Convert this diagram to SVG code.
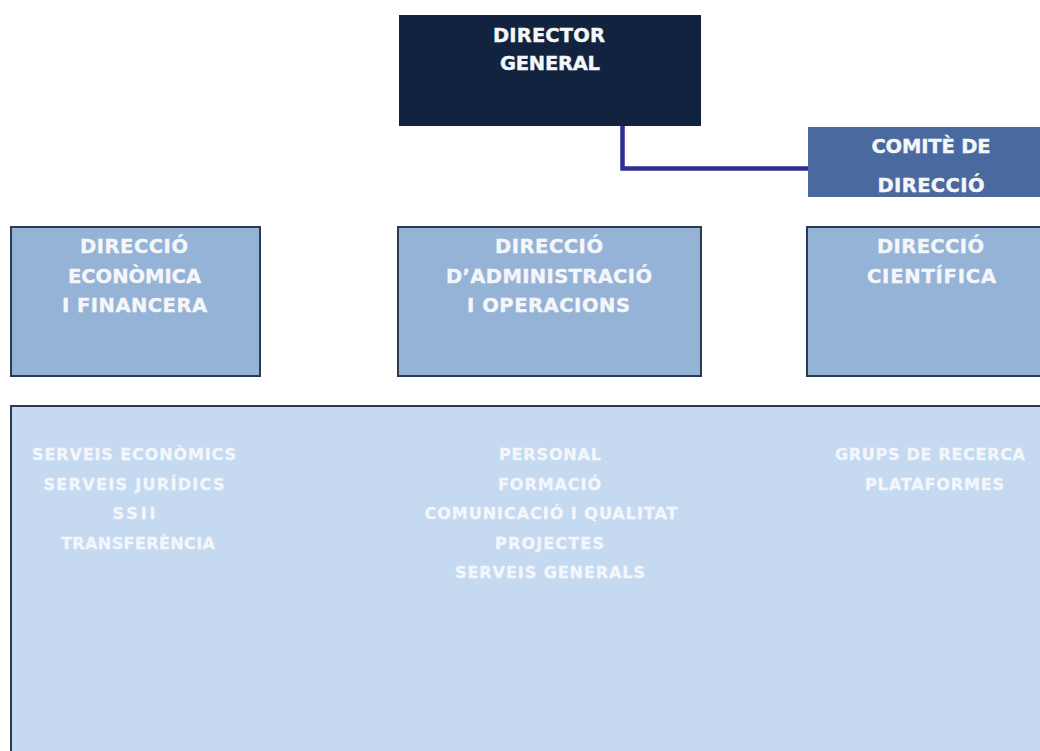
<svg xmlns="http://www.w3.org/2000/svg" width="1040" height="751" viewBox="0 0 1040 751">
<style>
.t{font-family:"DejaVu Sans","Liberation Sans",sans-serif;font-weight:bold;text-anchor:middle}
.h{font-size:19.5px;fill:#f4f6f9;stroke:#f4f6f9;stroke-width:0.4}
.s{font-size:16px;fill:#f3f7fc;stroke:#f3f7fc;stroke-width:0.3}
.box{fill:#95b3d7;stroke:#2c3b52;stroke-width:2}
</style>
<rect width="1040" height="751" fill="#ffffff"/>
<g id="connectors">
<polyline points="622.5,120 622.5,168.5 810,168.5" fill="none" stroke="#2f2e94" stroke-width="4.5"/>
</g>
<g id="director-general">
<rect x="399" y="15" width="302" height="111" fill="#11233e"/>
<text class="t h" x="549" y="42" textLength="112" lengthAdjust="spacing">DIRECTOR</text>
<text class="t h" x="550" y="70" textLength="100" lengthAdjust="spacing">GENERAL</text>
</g>
<g id="comite-direccio">
<rect x="808" y="127" width="240" height="70" fill="#4a699f"/>
<text class="t h" x="931" y="153" textLength="119" lengthAdjust="spacing">COMITÈ DE</text>
<text class="t h" x="931" y="191.5" textLength="107" lengthAdjust="spacing">DIRECCIÓ</text>
</g>
<g id="direccio-economica">
<rect class="box" x="11" y="227" width="249" height="149"/>
<text class="t h" x="134" y="253" textLength="108" lengthAdjust="spacing">DIRECCIÓ</text>
<text class="t h" x="134.5" y="283" textLength="133" lengthAdjust="spacing">ECONÒMICA</text>
<text class="t h" x="134.5" y="312" textLength="145" lengthAdjust="spacing">I FINANCERA</text>
</g>
<g id="direccio-administracio">
<rect class="box" x="398" y="227" width="303" height="149"/>
<text class="t h" x="549" y="253" textLength="108" lengthAdjust="spacing">DIRECCIÓ</text>
<text class="t h" x="549" y="283" textLength="206" lengthAdjust="spacing">D’ADMINISTRACIÓ</text>
<text class="t h" x="548.5" y="312" textLength="163" lengthAdjust="spacing">I OPERACIONS</text>
</g>
<g id="direccio-cientifica">
<rect class="box" x="807" y="227" width="240" height="149"/>
<text class="t h" x="930.5" y="253" textLength="107" lengthAdjust="spacing">DIRECCIÓ</text>
<text class="t h" x="931.5" y="283" textLength="129" lengthAdjust="spacing">CIENTÍFICA</text>
</g>
<g id="serveis">
<rect x="11" y="406" width="1040" height="360" fill="#c5d9f1" stroke="#2c3b52" stroke-width="2"/>
<text class="t s" x="134" y="460" textLength="204" lengthAdjust="spacing">SERVEIS ECONÒMICS</text>
<text class="t s" x="134" y="489.5" textLength="181" lengthAdjust="spacing">SERVEIS JURÍDICS</text>
<text class="t s" x="134" y="519" textLength="43" lengthAdjust="spacing">SSII</text>
<text class="t s" x="138" y="548.5" textLength="154" lengthAdjust="spacing">TRANSFERÈNCIA</text>
<text class="t s" x="550" y="460" textLength="102" lengthAdjust="spacing">PERSONAL</text>
<text class="t s" x="549.5" y="489.5" textLength="103" lengthAdjust="spacing">FORMACIÓ</text>
<text class="t s" x="551" y="519" textLength="253" lengthAdjust="spacing">COMUNICACIÓ I QUALITAT</text>
<text class="t s" x="549.5" y="548.5" textLength="109" lengthAdjust="spacing">PROJECTES</text>
<text class="t s" x="550" y="577.5" textLength="190" lengthAdjust="spacing">SERVEIS GENERALS</text>
<text class="t s" x="930" y="460" textLength="190" lengthAdjust="spacing">GRUPS DE RECERCA</text>
<text class="t s" x="934.5" y="489.5" textLength="139" lengthAdjust="spacing">PLATAFORMES</text>
</g>
</svg>
